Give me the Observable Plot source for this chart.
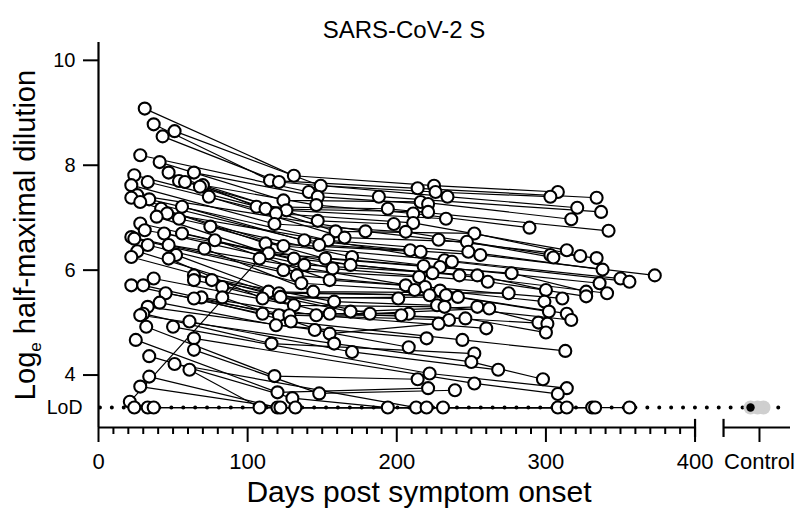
<!DOCTYPE html>
<html>
<head>
<meta charset="utf-8">
<script src="https://cdn.jsdelivr.net/npm/d3@7"></script>
<script src="https://cdn.jsdelivr.net/npm/@observablehq/plot@0.6"></script>
<style>
  html, body { margin: 0; padding: 0; background: #fff; }
  #chart { width: 800px; height: 517px; }
</style>
</head>
<body>
<div id="chart"></div>
<script>
// Limit of detection (log_e half-maximal dilution)
const LOD = 3.38;
const L = LOD;

// Per-subject visits (days post symptom onset, log_e titre); null = no visit
const v1Day = [31,37,51,43,28,41,64,47,24,54, 58,33,70,22,68,26,74,22,34,28, 56,42,46,39,54,28,75,31,44,56, 22,24,78,33,47,71,26,52,22,47, 64,37,64,76,22,30,83,45,69,83, 64,41,33,30,28,61,50,32,64,25, 64,34,51,61,34,28,21,24,33,37];
const v1Titer = [9.08,8.78,8.65,8.55,8.19,8.06,7.86,7.86,7.81,7.70, 7.68,7.68,7.62,7.62,7.59,7.43,7.40,7.38,7.35,7.30, 7.21,7.17,7.08,7.02,6.98,6.89,6.83,6.76,6.70,6.70, 6.63,6.60,6.57,6.48,6.48,6.41,6.36,6.29,6.25,6.22, 5.90,5.84,5.81,5.81,5.71,5.71,5.68,5.56,5.48,5.48, 5.46,5.38,5.30,5.17,5.14,5.02,4.92,4.92,4.70,4.67, 4.48,4.36,4.21,4.10,3.97,3.78,3.49,L,L,L];

const v2Day = [131,115,149,121,141,124,147,106,112,146, 126,119,147,118,159,179,165,138,154,112, 148,124,null,114,170,131,152,169,138,157, 124,133,155,136,null,144,114,121,122,110, 158,131,169,182,110,121,155,128,146,155, 129,119,145,116,158,170,null,118,null,120, 148,130,null,108,120,122,108,132,null,null];
const v2Titer = [7.80,7.71,7.61,7.68,7.49,7.33,7.40,7.21,7.17,7.24, 7.14,7.08,6.94,6.88,6.74,6.74,6.62,6.57,6.57,6.51, 6.48,6.46,null,6.32,6.25,6.22,6.22,6.10,6.10,6.03, 6.00,5.90,5.81,5.75,null,5.59,5.59,5.56,5.49,5.46, 5.40,5.33,5.21,5.17,5.17,5.14,5.17,5.14,5.14,4.79, 5.02,4.95,4.86,4.60,4.60,4.44,null,3.98,null,3.67, 3.65,3.56,null,L,L,L,6.22,L,null,null];

const v3Day = [225,214,226,234,188,216,221,194,221,211, 233,211,198,206,252,228,247,209,248,216, 256,232,237,218,229,224,277,242,254,261, 215,206,219,212,229,275,222,233,201,241, 227,232,254,262,208,203,246,235,260,228, 244,220,208,252,250,268,222,214,252,221, 239,194,213,220,231,null,null,null,null,null];
const v3Titer = [7.61,7.56,7.49,7.40,7.40,7.30,7.26,7.17,7.11,7.08, 6.98,6.90,6.88,6.73,6.70,6.58,6.54,6.38,6.35,6.35, 6.29,6.19,6.16,6.08,6.06,5.94,5.94,5.90,5.90,5.78, 5.87,5.71,5.68,5.62,5.61,5.56,5.52,5.52,5.46,5.49, 5.33,5.30,5.30,5.27,5.17,5.14,5.08,5.05,4.89,4.98, 4.67,4.70,4.53,4.41,4.25,4.10,4.03,3.92,3.84,3.75, 3.71,L,L,L,L,null,null,null,null,null];

const v4Day = [308,334,303,321,337,317,null,342,null,289, null,314,null,303,323,334,305,null,338,null, 373,350,356,null,336,null,327,341,300,327, null,null,311,null,299,null,null,302,null,314, null,317,295,null,null,301,300,null,null,null, 313,null,null,null,298,null,314,null,308,null, null,null,308,null,314,331,null,356,333,null];
const v4Titer = [7.49,7.38,7.40,7.19,7.11,6.97,null,6.75,null,6.81, null,6.38,null,6.29,6.27,6.23,6.24,null,6.01,null, 5.90,5.84,5.78,null,5.75,null,5.59,5.56,5.62,5.50, null,null,5.46,null,5.40,null,null,5.21,null,5.17, null,5.05,5.00,null,null,4.98,4.81,null,null,null, 4.46,null,null,null,3.92,null,3.75,null,3.64,null, null,null,L,null,L,L,null,L,L,null];

// Control samples (all at the limit of detection)
const controlTiter = [L, L, L];

// Axis ticks
const yTicks = [4, 6, 8, 10];
const xMajorTicks = [0, 100, 200, 300, 400];
const xMinorTicks = d3.range(10, 400, 10).filter(d => d % 100 !== 0);

// Layout constants (scale units)
const X_MAX = 464;
const Y_MIN = 3.0, Y_MAX = 10.34;
const BREAK_START = 419.1;
const CONTROL_TICK = 443.2;
const CONTROL_X = 437.2;
const controlOffsets = [8.7, 4.7, 0];

// Build long table
const visits = [[v1Day, v1Titer], [v2Day, v2Titer], [v3Day, v3Titer], [v4Day, v4Titer]];
const rows = [];
for (let i = 0; i < v1Day.length; i++) {
  for (const [d, t] of visits) {
    if (d[i] != null && t[i] != null) rows.push({id: i, day: d[i], titer: t[i]});
  }
}
const controlRows = controlTiter.map((t, i) => ({x: CONTROL_X + controlOffsets[i], titer: t}));

const chart = Plot.plot({
  width: 800,
  height: 517,
  marginLeft: 98,
  marginRight: 10,
  marginTop: 42,
  marginBottom: 90,
  style: {fontFamily: "'Liberation Sans', Arial, Helvetica, sans-serif", background: "#fff", color: "#000", overflow: "visible"},
  x: {domain: [0, X_MAX], label: null},
  y: {domain: [Y_MIN, Y_MAX], label: null},
  marks: [
    // dotted LoD line
    Plot.ruleY([LOD], {x1: 1.3, x2: X_MAX, stroke: "#000", strokeWidth: 4, strokeDasharray: "0,11.9", strokeLinecap: "round"}),
    // subject trajectories
    Plot.line(rows, {x: "day", y: "titer", z: "id", stroke: "#000", strokeWidth: 1.2}),
    Plot.dot(rows, {x: "day", y: "titer", r: 6, fill: "#fff", stroke: "#000", strokeWidth: 2.1}),
    // controls
    Plot.dot(controlRows, {x: "x", y: "titer", r: 7, fill: "#cfcfcf", stroke: "none"}),
    Plot.dot(controlRows.slice(-1), {x: "x", y: "titer", r: 4.2, fill: "#000", stroke: "none"}),
    // y axis
    Plot.ruleX([0], {y1: Y_MIN, y2: Y_MAX, stroke: "#000", strokeWidth: 2.2}),
    Plot.axisY(yTicks, {tickSize: 15, tickPadding: 8, fontSize: 20, strokeWidth: 2, tickFormat: d => String(d), label: null}),
    Plot.text([LOD], {x: 0, y: d => d, text: () => "LoD", textAnchor: "end", dx: -16, fontSize: 19.5}),
    // x axis (broken)
    Plot.ruleY([{x1: 0, x2: 400}, {x1: BREAK_START, x2: X_MAX}], {y: Y_MIN, x1: "x1", x2: "x2", stroke: "#000", strokeWidth: 2.2}),
    Plot.axisX(xMajorTicks, {tickSize: 15, tickPadding: 11, fontSize: 22, strokeWidth: 2, tickFormat: d => String(d), label: null}),
    Plot.axisX(xMinorTicks, {tickSize: 7, strokeWidth: 2, tickFormat: () => "", label: null}),
    Plot.axisX([CONTROL_TICK], {tickSize: 15, tickPadding: 11, fontSize: 22, strokeWidth: 2, tickFormat: () => "Control", label: null}),
    Plot.ruleX([400, BREAK_START], {y1: Y_MIN + 0.155, y2: Y_MIN - 0.19, stroke: "#000", strokeWidth: 2.2})
  ]
});

document.getElementById("chart").appendChild(chart);

const svg = d3.select(chart);
svg.append("text")
  .attr("x", 404).attr("y", 38)
  .attr("text-anchor", "middle").attr("font-size", 24).attr("fill", "#000")
  .text("SARS-CoV-2 S");
svg.append("text")
  .attr("x", 419).attr("y", 502)
  .attr("text-anchor", "middle").attr("font-size", 30).attr("fill", "#000")
  .text("Days post symptom onset");
const yl = svg.append("text")
  .attr("transform", "translate(35,235) rotate(-90)")
  .attr("text-anchor", "middle").attr("font-size", 29).attr("fill", "#000");
yl.append("tspan").text("Log");
yl.append("tspan").attr("font-size", 17).attr("dy", 6).text("e");
yl.append("tspan").attr("dy", -6).text(" half-maximal dilution");
</script>
</body>
</html>
